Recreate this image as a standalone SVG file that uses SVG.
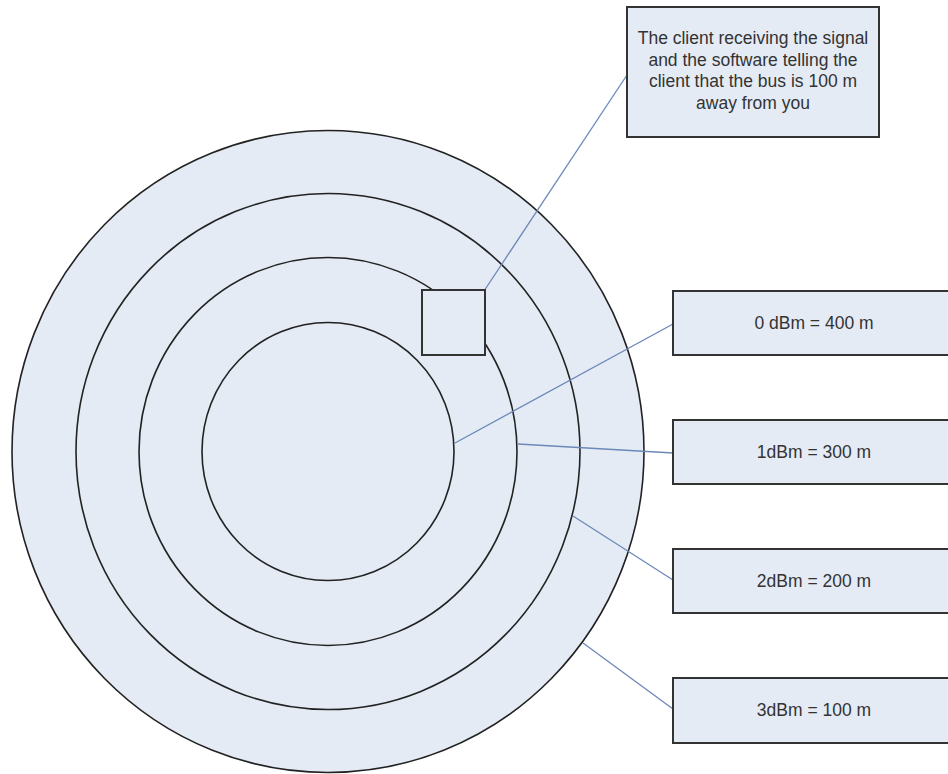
<svg xmlns="http://www.w3.org/2000/svg" width="948" height="774" viewBox="0 0 948 774">
<style>
.ring{fill:#e4ebf5;stroke:#222;stroke-width:1.6}
.box{fill:#e4ebf5;stroke:#333;stroke-width:2}
.conn{fill:none;stroke:#6b88b8;stroke-width:1.3}
.t{font-family:"Liberation Sans",Arial,sans-serif;font-size:17.5px;fill:#333;text-anchor:middle}
</style>
<rect width="948" height="774" fill="#fff"/>
<g id="rings">
<ellipse id="ring-3dBm" class="ring" cx="328" cy="451.5" rx="316" ry="321"/>
<ellipse id="ring-2dBm" class="ring" cx="328" cy="451.5" rx="252" ry="258"/>
<ellipse id="ring-1dBm" class="ring" cx="328" cy="451.5" rx="189" ry="194"/>
<ellipse id="ring-0dBm" class="ring" cx="328" cy="451.5" rx="126" ry="129"/>
</g>
<g id="connectors">
<line class="conn" x1="484" y1="291" x2="627" y2="75"/>
<line class="conn" x1="455" y1="443" x2="673" y2="324"/>
<line class="conn" x1="518" y1="444" x2="673" y2="453"/>
<line class="conn" x1="573" y1="516" x2="673" y2="580"/>
<line class="conn" x1="583" y1="643" x2="673" y2="709"/>
</g>
<g id="client">
<rect class="box" x="422" y="290" width="63" height="65"/>
</g>
<g id="note">
<rect class="box" x="627" y="7" width="252" height="130"/>
<text class="t" x="753" y="44">The client receiving the signal</text>
<text class="t" x="753" y="65.5">and the software telling the</text>
<text class="t" x="753" y="87">client that the bus is 100 m</text>
<text class="t" x="753" y="108.5">away from you</text>
</g>
<g id="label-0dBm">
<rect class="box" x="673" y="291" width="282" height="64"/>
<text class="t" x="814" y="329">0 dBm = 400 m</text>
</g>
<g id="label-1dBm">
<rect class="box" x="673" y="420" width="282" height="64"/>
<text class="t" x="814" y="458">1dBm = 300 m</text>
</g>
<g id="label-2dBm">
<rect class="box" x="673" y="549" width="282" height="64"/>
<text class="t" x="814" y="587">2dBm = 200 m</text>
</g>
<g id="label-3dBm">
<rect class="box" x="673" y="678" width="282" height="65"/>
<text class="t" x="814" y="716">3dBm = 100 m</text>
</g>
</svg>
